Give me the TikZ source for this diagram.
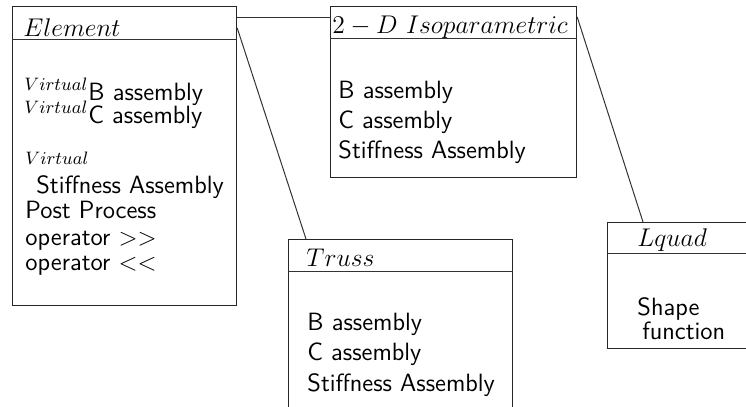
\RequirePackage{fix-cm}
\documentclass[tikz,border=0pt]{standalone}
\usetikzlibrary{calc}
\DeclareMathSizes{12.5}{12.5}{9}{7}
\begin{document}
\begin{tikzpicture}[x=0.5pt,y=-0.5pt,
  cls/.style={draw=black!85, line width=0.6pt, inner sep=0pt, anchor=north west},
  conn/.style={draw=black!80, line width=0.5pt},
  txt/.style={inner sep=0pt, anchor=base west, font=\fontsize{12.5}{15}\selectfont\sffamily},
  ttl/.style={inner sep=0pt, anchor=base west, font=\fontsize{12.8}{15}\selectfont}]
\useasboundingbox (0,0) rectangle (746,407);
\begin{scope}
\clip (0,0) rectangle (746,407);
% boxes
\node[cls, minimum width=112pt, minimum height=149.5pt] (elem) at (12,6) {};
\node[cls, minimum width=123pt, minimum height=85.5pt] (iso) at (330,6) {};
\node[cls, minimum width=112pt, minimum height=100pt] (truss) at (288,239) {};
\node[cls, minimum width=80pt, minimum height=63pt] (lquad) at (607,222) {};
% dividers
\draw[conn] ($(elem.north west)+(0,33)$) -- ($(elem.north east)+(0,33)$);
\draw[conn] ($(iso.north west)+(0,32)$) -- ($(iso.north east)+(0,32)$);
\draw[conn] ($(truss.north west)+(0,32)$) -- ($(truss.north east)+(0,32)$);
\draw[conn] ($(lquad.north west)+(0,31)$) -- ($(lquad.north east)+(0,31)$);
% connectors
\draw[conn] ($(elem.north east)+(0,11)$) -- ($(iso.north west)+(0,11)$);
\draw[conn] ($(elem.north east)+(0,22)$) -- ($(truss.north west)+(18,0)$);
\draw[conn] ($(iso.north east)+(0,11)$) -- ($(lquad.north west)+(36,0)$);
\end{scope}
% titles
\node[ttl] (elemt) at (23,37) {$Element$};
\node[ttl] (isot) at (332,33) {$2-D\ Isoparametric$};
\node[ttl] (trusst) at (306,266) {$Truss$};
\node[ttl] (lquadt) at (637,246) {$Lquad$};
% Element body
\node[txt] (e1) at (24,100) {$^{Virtual}$B assembly};
\node[txt] (e2) at (24,123) {$^{Virtual}$C assembly};
\node[txt] (e3) at (25,164) {$\scriptstyle Virtual$};
\node[txt] (e4) at (36,193) {Stiffness Assembly};
\node[txt] (e5) at (25,218) {Post Process};
\node[txt] (e6) at (25,245) {operator $>>$};
\node[txt] (e7) at (25,270) {operator $<<$};
% Iso body
\node[txt] (i1) at (338,98) {B assembly};
\node[txt] (i2) at (338,128) {C assembly};
\node[txt] (i3) at (338,158) {Stiffness Assembly};
% Truss body
\node[txt] (t1) at (307,330) {B assembly};
\node[txt] (t2) at (307,360) {C assembly};
\node[txt] (t3) at (307,391) {Stiffness Assembly};
% Lquad body
\node[txt] (l1) at (637,315) {Shape};
\node[txt] (l2) at (642,339) {function};
\end{tikzpicture}
\end{document}
